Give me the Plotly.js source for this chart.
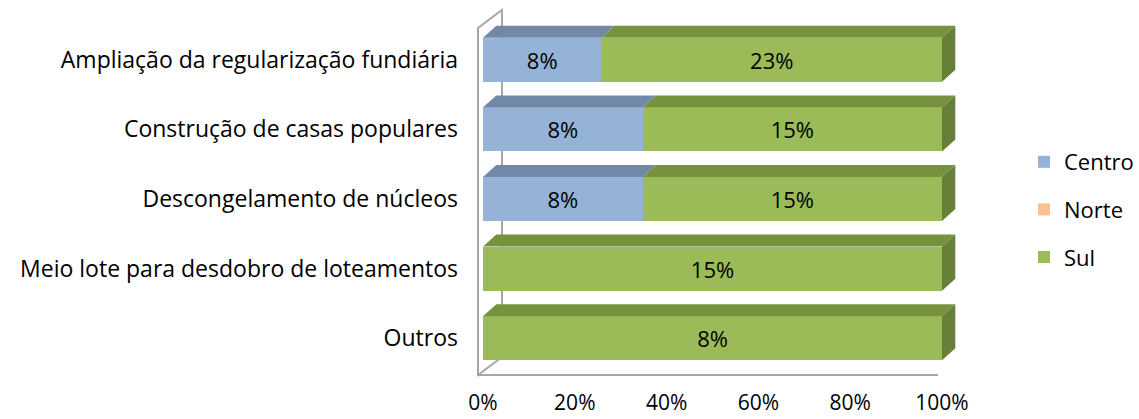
<!DOCTYPE html>
<html>
<head>
<meta charset="utf-8">
<script src="https://cdn.plot.ly/plotly-3.0.1.min.js"></script>
<style>html,body{margin:0;padding:0;background:#fff;}#chart{width:1139px;height:419px;}</style>
</head>
<body>
<div id="chart"></div>
<script>
const categories = [
  "Ampliação da regularização fundiária",
  "Construção de casas populares",
  "Descongelamento de núcleos",
  "Meio lote para desdobro de loteamentos",
  "Outros"
];
const centro = [8, 8, 8, 0, 0];
const norte = [0, 0, 0, 0, 0];
const sul = [23, 15, 15, 15, 8];
const xTickValues = [0, 20, 40, 60, 80, 100];
const xTickLabels = ["0%", "20%", "40%", "60%", "80%", "100%"];

const seriesNames = ["Centro", "Norte", "Sul"];
const seriesValues = [centro, norte, sul];
const frontColors = ["#95B3D7", "#FAC090", "#9BBB59"];
const topColors = ["#7189A6", "#C89A73", "#77923C"];
const sideColors = ["#5F7490", "#A88060", "#66803A"];

const totals = categories.map((_, i) => seriesValues.reduce((a, s) => a + s[i], 0));
const shares = seriesValues.map(s => s.map((v, i) => totals[i] ? v / totals[i] * 100 : 0));
const yIdx = categories.map((_, i) => i);

const barW = 0.633;
const dx = 2.9;      // depth in x data units
const dy = 0.172;    // depth in y data units

const traces = seriesNames.map((name, k) => ({
  type: 'bar',
  orientation: 'h',
  name: name,
  legendgroup: name,
  x: shares[k],
  y: yIdx,
  width: barW,
  marker: {color: frontColors[k], line: {width: 0}},
  text: seriesValues[k].map(v => v > 0 ? v + '%' : ''),
  textposition: 'inside',
  insidetextanchor: 'middle',
  textangle: 0,
  constraintext: 'none',
  textfont: {family: 'Open Sans, sans-serif', size: 22, color: '#000'},
  hoverinfo: 'skip'
}));

const shapes = [];
categories.forEach((_, i) => {
  const yt = i - barW / 2, yb = i + barW / 2;
  let acc = 0, lastK = -1;
  seriesNames.forEach((_, k) => {
    const v = shares[k][i];
    if (v <= 0) return;
    const x0 = acc, x1 = acc + v;
    shapes.push({type: 'path', xref: 'x', yref: 'y', layer: 'above',
      path: `M ${x0},${yt} L ${x1},${yt} L ${x1 + dx},${yt - dy} L ${x0 + dx},${yt - dy} Z`,
      fillcolor: topColors[k], line: {width: 0}});
    acc = x1; lastK = k;
  });
  if (lastK >= 0) {
    shapes.push({type: 'path', xref: 'x', yref: 'y', layer: 'above',
      path: `M ${acc},${yt} L ${acc + dx},${yt - dy} L ${acc + dx},${yb - dy} L ${acc},${yb} Z`,
      fillcolor: sideColors[lastK], line: {width: 0}});
  }
});

// wall / floor frame (paper coordinates)
const L = 483, R = 957, T = 25, B = 373;
const px = p => (p - L) / (R - L);
const py = p => (B - p) / (B - T);
const grey = {color: '#A6A6A6', width: 2};
shapes.push({type: 'path', xref: 'paper', yref: 'paper', layer: 'below',
  path: `M ${px(502)},${py(357)} L ${px(502)},${py(10)} L ${px(478)},${py(28)} L ${px(478)},${py(375)} L ${px(502)},${py(357)}`,
  line: grey});
shapes.push({type: 'line', xref: 'paper', yref: 'paper', layer: 'below',
  x0: px(478), y0: py(375), x1: px(938), y1: py(375), line: grey});

const layout = {
  width: 1139, height: 419,
  margin: {l: L, r: 1139 - R, t: T, b: 419 - B},
  paper_bgcolor: '#fff', plot_bgcolor: 'rgba(0,0,0,0)',
  barmode: 'stack',
  showlegend: true,
  font: {family: 'Open Sans, sans-serif', size: 22, color: '#000'},
  xaxis: {
    range: [0, 100 * (R - L) / (942 - L)],
    tickvals: xTickValues, ticktext: xTickLabels,
    showgrid: false, zeroline: false, showline: false, ticks: '',
    ticklabelstandoff: 15,
    tickfont: {size: 21}
  },
  yaxis: {
    range: [categories.length - 0.5, -0.5],
    tickvals: yIdx, ticktext: categories,
    showgrid: false, zeroline: false, showline: false, ticks: '',
    ticklabelstandoff: 24,
    tickfont: {size: 23}
  },
  legend: {
    xref: 'container', yref: 'container',
    x: 1024 / 1139, y: 1 - 141 / 419, xanchor: 'left', yanchor: 'top',
    traceorder: 'grouped', tracegroupgap: 16,
    font: {size: 22}, itemwidth: 30
  },
  shapes: shapes
};

Plotly.newPlot('chart', traces, layout, {staticPlot: true});
</script>
</body>
</html>
